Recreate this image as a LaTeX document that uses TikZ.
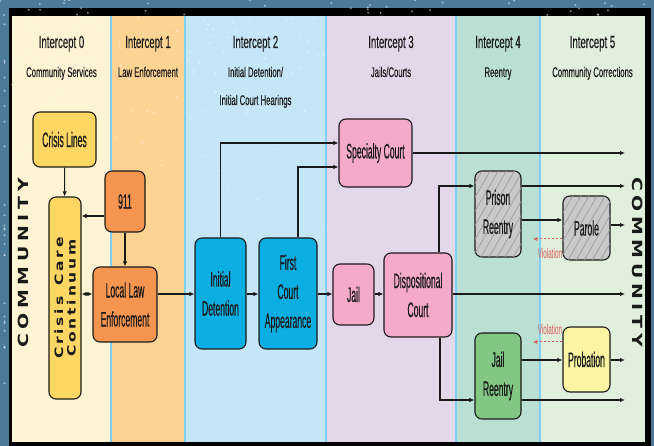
\documentclass[tikz,border=0pt]{standalone}
\usepackage{fontspec}
\setmainfont{Liberation Sans}
\newfontfamily\hdrfont[FakeStretch=0.55,FakeBold=0.3]{Liberation Sans}
\newfontfamily\boxfont[FakeStretch=0.41,FakeBold=0.4]{Liberation Sans}
\newfontfamily\viofont[FakeStretch=0.45]{Liberation Sans}
\newfontfamily\widefont[FakeStretch=1.35]{DejaVu Sans}
\usetikzlibrary{arrows.meta,patterns.meta}
\definecolor{bgblue}{HTML}{4B7B99}
\definecolor{laneA}{HTML}{FEF4D4}
\definecolor{laneB}{HTML}{FDD394}
\definecolor{laneC}{HTML}{C5E6F6}
\definecolor{laneD}{HTML}{E3D7EA}
\definecolor{laneE}{HTML}{B9E0D3}
\definecolor{laneF}{HTML}{E1EFDD}
\definecolor{sepblue}{HTML}{7FCFF2}
\definecolor{cyel}{HTML}{FDD663}
\definecolor{corange}{HTML}{F5954F}
\definecolor{ccyan}{HTML}{0BAEE0}
\definecolor{cpink}{HTML}{F6AAC9}
\definecolor{cgray}{HTML}{C9C9C9}
\definecolor{hatchgray}{HTML}{9C9C9C}
\definecolor{cgreen}{HTML}{83C784}
\definecolor{cpyel}{HTML}{FBF4A3}
\definecolor{vred}{HTML}{D65A5A}
\definecolor{ink}{HTML}{1A1A1A}
\tikzset{
  box/.style={draw=ink, line width=1.1pt, rounded corners=7pt, inner sep=0pt,
    align=center, text=ink, font=\boxfont\fontsize{21}{29}\selectfont},
  hatched/.style={fill=cgray, postaction={pattern={Lines[angle=60,distance=7pt,line width=0.7pt]}, pattern color=hatchgray}},
  arr/.style={-{Latex[length=5pt,width=4.5pt]}, line width=1.1pt, draw=ink},
  darr/.style={{Latex[length=5pt,width=4.5pt]}-{Latex[length=5pt,width=4.5pt]}, line width=1.1pt, draw=ink},
  vio/.style={-{Latex[length=4pt,width=4pt]}, dash pattern=on 2.5pt off 1.5pt, line width=1pt, draw=vred},
  viotext/.style={text=vred, font=\viofont\fontsize{14}{16}\selectfont, inner sep=0pt},
  title/.style={anchor=base, text=ink, inner sep=0pt, font=\hdrfont\fontsize{17.5}{20}\selectfont},
  subtitle/.style={anchor=base, text=ink, inner sep=0pt, font=\hdrfont\fontsize{14}{16}\selectfont},
  sep/.style={draw=sepblue, line width=2pt},
}
\begin{document}
\begin{tikzpicture}[x=1pt,y=-1pt]
\useasboundingbox (0,0) rectangle (654,446);
% background and frame
\fill[bgblue] (0,0) rectangle (654,446);
\fill[black] (9,8) rectangle (651,446);
% lanes
\fill[laneA] (12,16) rectangle (111,442);
\fill[laneB] (111,16) rectangle (185,442);
\fill[laneC] (185,16) rectangle (326,442);
\fill[laneD] (326,16) rectangle (456,442);
\fill[laneE] (456,16) rectangle (540,442);
\fill[laneF] (540,16) rectangle (645,442);
% decorative dots
\pgfmathsetseed{11}
\foreach \i in {1,...,110}{
  \pgfmathsetmacro\dx{12+rnd*320}
  \pgfmathsetmacro\dy{17+rnd*rnd*230}
  \fill[white, opacity=0.45] (\dx,\dy) circle (1.1pt);
}
\foreach \i in {1,...,40}{
  \pgfmathsetmacro\dx{rnd*654}
  \pgfmathsetmacro\dy{rnd*15}
  \fill[white, opacity=0.5] (\dx,\dy) circle (1.1pt);
}
\foreach \i in {1,...,25}{
  \pgfmathsetmacro\dy{rnd*446}
  \fill[white, opacity=0.5] (4.5,\dy) circle (1.1pt);
}
\draw[sep] (111,16) -- (111,442);
\draw[sep] (185,16) -- (185,442);
\draw[sep] (326,16) -- (326,442);
\draw[sep] (456,16) -- (456,442);
\draw[sep] (540,16) -- (540,442);
% headers
\node[title] (t0) at (61.5,48) {Intercept 0};
\node[subtitle] (s0) at (61.5,77) {Community Services};
\node[title] (t1) at (148,48) {Intercept 1};
\node[subtitle] (s1) at (148,77) {Law Enforcement};
\node[title] (t2) at (255.5,48) {Intercept 2};
\node[subtitle] (s2a) at (255.5,77) {Initial Detention/};
\node[subtitle] (s2b) at (255.5,105) {Initial Court Hearings};
\node[title] (t3) at (391,48) {Intercept 3};
\node[subtitle] (s3) at (391,77) {Jails/Courts};
\node[title] (t4) at (498,48) {Intercept 4};
\node[subtitle] (s4) at (498,77) {Reentry};
\node[title] (t5) at (592.5,48) {Intercept 5};
\node[subtitle] (s5) at (592.5,77) {Community Corrections};
% community labels
\node[rotate=90, text=ink, inner sep=0pt, font=\widefont\bfseries\fontsize{14}{14}\selectfont] (commL) at (23,263)
  {C\kern4.7pt O\kern4.7pt M\kern4.7pt M\kern4.7pt U\kern4.7pt N\kern4.7pt I\kern4.7pt T\kern4.7pt Y};
\node[rotate=-90, text=ink, inner sep=0pt, font=\widefont\bfseries\fontsize{14}{14}\selectfont] (commR) at (638,262)
  {C\kern4.7pt O\kern4.7pt M\kern4.7pt M\kern4.7pt U\kern4.7pt N\kern4.7pt I\kern4.7pt T\kern4.7pt Y};
% nodes
\node[box, fill=cyel, minimum width=63pt, minimum height=55pt] (cl) at (64.5,139.5) {Crisis Lines};
\node[box, fill=cyel, minimum width=32pt, minimum height=202pt] (ccc) at (65,298) {};
\node[rotate=90, align=center, text=ink, inner sep=0pt, font=\widefont\bfseries\fontsize{11.5}{12.5}\selectfont] (ccctext) at (65,298)
  {C\kern2.8pt r\kern2.8pt i\kern2.8pt s\kern2.8pt i\kern2.8pt s\kern2.8pt\ \kern2.8pt C\kern2.8pt a\kern2.8pt r\kern2.8pt e\\
   C\kern2.8pt o\kern2.8pt n\kern2.8pt t\kern2.8pt i\kern2.8pt n\kern2.8pt u\kern2.8pt u\kern2.8pt m};
\node[box, fill=corange, minimum width=40pt, minimum height=61pt] (n911) at (125,201.5) {911};
\node[box, fill=corange, minimum width=64pt, minimum height=75pt] (lle) at (125,304.5) {Local Law\\Enforcement};
\node[box, fill=ccyan, minimum width=51pt, minimum height=111pt] (idet) at (220.5,293.5) {Initial\\Detention};
\node[box, fill=ccyan, minimum width=58pt, minimum height=111pt] (fca) at (288,293.5) {First\\Court\\Appearance};
\node[box, fill=cpink, minimum width=73pt, minimum height=68pt] (sc) at (375.5,153) {Specialty Court};
\node[box, fill=cpink, minimum width=41pt, minimum height=61pt] (jail) at (353.5,294.5) {Jail};
\node[box, fill=cpink, minimum width=68pt, minimum height=84pt] (disp) at (418,295) {Dispositional\\Court};
\node[box, hatched, minimum width=46pt, minimum height=86pt] (pr) at (498,214) {Prison\\Reentry};
\node[box, hatched, minimum width=47pt, minimum height=64pt] (parole) at (586.5,228) {Parole};
\node[box, fill=cgreen, minimum width=46pt, minimum height=86pt] (jr) at (498,376) {Jail\\Reentry};
\node[box, fill=cpyel, minimum width=47pt, minimum height=65pt] (prob) at (586.5,359.5) {Probation};
% level coordinates
\coordinate (ymain) at (0,294);
\coordinate (y911) at (0,216);
\coordinate (ysc1) at (0,143);
\coordinate (ysc2) at (0,167);
\coordinate (ypr1) at (0,186);
\coordinate (ypr2) at (0,220);
\coordinate (ypar) at (0,225);
\coordinate (yv1) at (0,239);
\coordinate (yjr) at (0,400);
\coordinate (yprob) at (0,360);
\coordinate (yv2) at (0,342);
\coordinate (xend) at (625,0);
\coordinate (xvio) at (533,0);
% connectors
\draw[arr] (cl) -- (ccc);
\draw[arr] (n911.west |- y911) -- (ccc.east |- y911);
\draw[arr] (n911) -- (lle);
\draw[darr] (ccc.east |- ymain) -- (lle.west |- ymain);
\draw[arr] (lle.east |- ymain) -- (idet.west |- ymain);
\draw[arr] (idet.east |- ymain) -- (fca.west |- ymain);
\draw[arr] (fca.east |- ymain) -- (jail.west |- ymain);
\draw[arr] (jail.east |- ymain) -- (disp.west |- ymain);
\draw[arr] (disp.east |- ymain) -- (xend |- ymain);
\draw[arr] (idet.north) |- (sc.west |- ysc1);
\draw[arr] ([xshift=10pt]fca.north) |- (sc.west |- ysc2);
\draw[arr] (sc.east) -- (xend |- sc.east);
\draw[arr] ([xshift=21pt]disp.north) |- (pr.west |- ypr1);
\draw[arr] (pr.east |- ypr1) -- (xend |- ypr1);
\draw[arr] (pr.east |- ypr2) -- (parole.west |- ypr2);
\draw[arr] (parole.east |- ypar) -- (xend |- ypar);
\draw[vio] (parole.west |- yv1) -- (xvio |- yv1);
\node[viotext] (v1) at (550,253) {Violation};
\draw[arr] ([xshift=22pt]disp.south) |- (jr.west |- yjr);
\draw[arr] (jr.east |- yprob) -- (prob.west |- yprob);
\draw[arr] (prob.east |- yprob) -- (xend |- yprob);
\draw[arr] (jr.east |- yjr) -- (xend |- yjr);
\draw[vio] (prob.west |- yv2) -- (xvio |- yv2);
\node[viotext] (v2) at (550,329) {Violation};
\end{tikzpicture}
\end{document}
